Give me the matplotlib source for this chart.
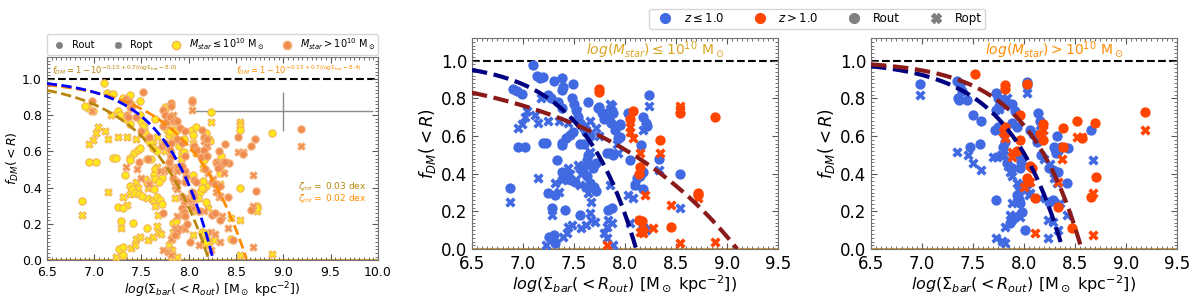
import numpy as np
import matplotlib
matplotlib.use("Agg")
import matplotlib.pyplot as plt
from matplotlib.ticker import MultipleLocator, AutoMinorLocator
from matplotlib.lines import Line2D

# ---------------- data ----------------
# log(M_star) <= 1e10 sample (middle panel, yellow in left panel)
lo_blue_out_x = [7.10, 7.14, 7.17, 7.20, 7.30, 7.38, 7.39, 7.38, 7.49, 6.99, 6.94, 6.90, 7.25, 7.27, 7.34, 7.38,
                 7.48, 7.50, 7.52, 7.54, 7.56, 7.64, 7.74, 7.77, 7.82, 7.79, 7.84, 7.59, 7.62, 7.66, 7.42, 7.46,
                 7.49, 7.56, 7.60, 7.82, 7.85, 7.64, 7.63, 7.64, 7.72, 7.69, 7.38, 7.38, 7.20, 7.23, 6.95, 7.02,
                 7.33, 7.38, 7.40, 7.43, 7.47, 7.51, 7.59, 7.63, 7.66, 7.70, 7.72, 6.87, 7.25, 7.31, 7.28, 7.41,
                 7.83, 7.26, 7.30, 7.31, 7.56, 8.24, 8.18, 8.21, 8.22, 7.86, 7.95, 7.90, 8.03, 7.93, 8.16, 7.88,
                 8.05, 8.33, 8.18, 8.15, 8.12, 8.10, 8.18, 8.54, 7.87, 8.18, 7.95, 7.75, 7.80, 7.88, 7.95]
lo_blue_out_y = [0.975, 0.92, 0.91, 0.915, 0.894, 0.91, 0.86, 0.845, 0.877, 0.825, 0.84, 0.85, 0.82, 0.80, 0.78, 0.75,
                 0.80, 0.77, 0.74, 0.70, 0.67, 0.78, 0.75, 0.72, 0.72, 0.69, 0.69, 0.645, 0.62, 0.60, 0.59, 0.605,
                 0.62, 0.56, 0.56, 0.51, 0.51, 0.50, 0.47, 0.45, 0.455, 0.43, 0.565, 0.55, 0.565, 0.565, 0.54, 0.54,
                 0.47, 0.41, 0.39, 0.37, 0.365, 0.355, 0.41, 0.39, 0.35, 0.33, 0.31, 0.325, 0.295, 0.286, 0.217, 0.206,
                 0.206, 0.063, 0.074, 0.03, 0.18, 0.818, 0.70, 0.67, 0.655, 0.67, 0.66, 0.63, 0.72, 0.59, 0.55, 0.50,
                 0.47, 0.48, 0.41, 0.39, 0.376, 0.34, 0.32, 0.40, 0.216, 0.115, 0.594, 0.753, 0.71, 0.72, 0.666]
lo_blue_opt_x = [6.99, 7.02, 7.04, 7.12, 7.15, 7.18, 7.25, 7.35, 7.53, 7.62, 7.66, 7.85, 7.72, 7.75, 7.66, 7.15,
                 7.35, 7.38, 7.44, 7.46, 7.56, 7.57, 7.62, 7.64, 7.67, 6.87, 7.28, 7.44, 7.48, 7.57, 7.62, 7.67,
                 7.71, 7.39, 7.43, 7.66, 7.83, 7.82, 7.79, 7.82, 7.23, 8.24, 8.18, 7.87, 7.93, 7.85, 8.03, 8.08,
                 8.10, 8.33, 8.54, 8.18, 8.21, 7.87, 7.88, 7.31, 7.54, 7.56, 7.92, 8.05, 7.44, 6.95]
lo_blue_opt_y = [0.665, 0.70, 0.735, 0.71, 0.67, 0.80, 0.68, 0.68, 0.735, 0.656, 0.68, 0.77, 0.64, 0.60, 0.515, 0.376,
                 0.303, 0.365, 0.43, 0.40, 0.43, 0.40, 0.33, 0.30, 0.25, 0.25, 0.18, 0.118, 0.127, 0.11, 0.127, 0.153,
                 0.143, 0.065, 0.085, 0.19, 0.153, 0.118, 0.085, 0.058, 0.02, 0.76, 0.63, 0.76, 0.51, 0.34, 0.286, 0.27,
                 0.34, 0.42, 0.22, 0.115, 0.10, 0.138, 0.02, 0.35, 0.445, 0.34, 0.56, 0.137, 0.67, 0.64]
lo_red_out_x = [7.75, 7.75, 8.08, 8.05, 8.54, 8.88, 8.34, 8.15, 8.14, 8.72, 8.72, 8.14, 8.17, 8.45, 8.18]
lo_red_out_y = [0.847, 0.835, 0.735, 0.69, 0.72, 0.70, 0.577, 0.435, 0.40, 0.30, 0.285, 0.155, 0.15, 0.118, 0.10]
lo_red_opt_x = [8.54, 8.54, 8.05, 8.05, 8.08, 8.34, 8.15, 8.20, 8.45, 8.27, 8.15, 8.18, 8.54, 8.88, 7.82, 8.72]
lo_red_opt_y = [0.76, 0.745, 0.645, 0.62, 0.59, 0.51, 0.51, 0.286, 0.233, 0.11, 0.09, 0.085, 0.03, 0.035, 0.02, 0.27]

# log(M_star) > 1e10 sample (right panel, orange in left panel)
hi_blue_out_x = [6.98, 7.34, 7.37, 7.39, 7.35, 7.36, 7.44, 7.47, 7.57, 7.50, 7.58, 7.73, 7.75, 7.76, 7.73, 7.72,
                 7.75, 7.80, 7.84, 7.88, 7.91, 7.80, 7.81, 7.79, 7.88, 7.93, 8.03, 8.03, 8.14, 8.16, 8.06, 8.09,
                 8.32, 8.29, 8.36, 8.43, 8.66, 7.73, 7.88, 7.86, 7.93, 7.95, 7.96, 7.98, 8.01, 7.96, 7.97, 7.96,
                 7.83, 7.88, 8.30, 8.33, 8.31, 8.25, 8.28, 8.33, 8.42, 8.25, 8.28, 8.13, 8.17]
hi_blue_out_y = [0.877, 0.89, 0.87, 0.84, 0.80, 0.79, 0.79, 0.54, 0.56, 0.71, 0.68, 0.83, 0.80, 0.76, 0.74, 0.63,
                 0.645, 0.79, 0.77, 0.77, 0.73, 0.61, 0.57, 0.54, 0.67, 0.645, 0.885, 0.87, 0.72, 0.68, 0.63, 0.61,
                 0.60, 0.54, 0.54, 0.535, 0.63, 0.26, 0.153, 0.137, 0.286, 0.265, 0.243, 0.197, 0.10, 0.49, 0.46, 0.43,
                 0.455, 0.43, 0.53, 0.52, 0.51, 0.43, 0.42, 0.41, 0.35, 0.25, 0.26, 0.567, 0.50]
hi_blue_opt_x = [6.98, 7.34, 7.45, 7.50, 7.58, 8.03, 7.83, 7.81, 7.76, 7.70, 7.74, 7.77, 7.80, 7.84, 7.86, 7.88,
                 7.93, 7.95, 7.96, 7.88, 7.93, 7.86, 7.91, 7.96, 7.73, 7.78, 7.81, 7.81, 8.03, 8.06, 8.05, 8.16,
                 8.24, 8.28, 8.33, 8.24, 8.35, 8.42, 8.68, 8.29, 8.32, 8.20, 8.26, 8.16, 8.19]
hi_blue_opt_y = [0.82, 0.515, 0.50, 0.455, 0.42, 0.83, 0.80, 0.76, 0.745, 0.49, 0.49, 0.50, 0.50, 0.44, 0.41, 0.39,
                 0.35, 0.31, 0.34, 0.243, 0.25, 0.18, 0.18, 0.17, 0.058, 0.045, 0.03, 0.118, 0.32, 0.30, 0.286, 0.27,
                 0.153, 0.145, 0.10, 0.058, 0.243, 0.18, 0.47, 0.376, 0.35, 0.48, 0.45, 0.656, 0.63]
hi_red_out_x = [7.52, 7.81, 7.81, 8.03, 7.96, 7.81, 8.19, 8.38, 8.52, 8.70, 9.19, 7.96, 8.16, 8.19, 8.57, 8.38,
                8.06, 8.08, 8.03, 8.04, 8.33, 8.47, 8.71, 8.66, 7.93, 8.11]
hi_red_out_y = [0.93, 0.868, 0.85, 0.877, 0.71, 0.647, 0.666, 0.64, 0.68, 0.67, 0.726, 0.577, 0.61, 0.577, 0.587, 0.54,
                0.44, 0.43, 0.376, 0.355, 0.224, 0.11, 0.383, 0.277, 0.52, 0.27]
hi_red_opt_x = [9.19, 8.52, 8.57, 8.38, 8.19, 7.81, 7.88, 7.88, 8.06, 8.33, 8.11, 8.68, 8.68, 8.37, 7.79, 8.00]
hi_red_opt_y = [0.63, 0.594, 0.594, 0.54, 0.63, 0.587, 0.515, 0.49, 0.356, 0.356, 0.084, 0.074, 0.296, 0.48, 0.62, 0.33]

# model curves: log10(1 - f_DM) = slope * (x - x_zero)
left_curve_zero = [8.214, 8.614, 8.26]
left_curve_slope = [0.7, 0.7, 0.9]
mid_curve_zero = [8.11, 9.10]
mid_curve_slope = [0.81, 0.296]
right_curve_zero = [8.38, 8.565]
right_curve_slope = [0.81, 0.82]

# error bar in left panel
err_x, err_y, err_xerr, err_yerr = 9.0, 0.82, 0.95, 0.105

# ---------------- styling ----------------
BLUE = 'royalblue'
RED = 'orangered'
YEL_F, YEL_E = '#ffe81a', '#f2b35a'
ORA_F, ORA_E = '#f08c50', '#f5b27a'


def fcurve(x, x0, s):
    return 1 - 10 ** (s * (x - x0))


def style_axes(ax, xmax, fs, xpad):
    ax.set_ylim(0, 1.12)
    ax.set_xlim(6.5, xmax)
    ax.xaxis.set_major_locator(MultipleLocator(0.5))
    ax.yaxis.set_major_locator(MultipleLocator(0.2))
    ax.xaxis.set_minor_locator(AutoMinorLocator(10))
    ax.yaxis.set_minor_locator(AutoMinorLocator(10))
    ax.tick_params(which='both', direction='in', top=True, right=True, labelsize=fs, colors='0.35',
                   labelcolor='black')
    ax.tick_params(which='major', length=4)
    ax.tick_params(which='minor', length=2)
    ax.tick_params(axis='x', which='major', pad=xpad)
    for sp in ax.spines.values():
        sp.set_color('0.45')
    ax.axhline(1.0, color='black', ls='--', lw=1.5, zorder=1)
    ax.axhline(0.0, color='#d9a040', lw=1.5, zorder=1)


fig = plt.figure(figsize=(12, 2.99), dpi=100)
axL = fig.add_axes([0.039, 0.130, 0.276, 0.679])
axM = fig.add_axes([0.3933, 0.167, 0.255, 0.706])
axR = fig.add_axes([0.7258, 0.167, 0.255, 0.706])

xlab = r'$log(\Sigma_{bar}(<R_{out})$ [M$_\odot$ kpc$^{-2}$])'
ylab = r'$f_{DM}(<R)$'

# ---------------- left panel ----------------
style_axes(axL, 10.0, 9, 4.5)
sL = 28
axL.scatter(lo_blue_opt_x + lo_red_opt_x, lo_blue_opt_y + lo_red_opt_y, marker='X', s=sL,
            facecolor=YEL_F, edgecolor=YEL_E, lw=0.8, zorder=3)
axL.scatter(lo_blue_out_x + lo_red_out_x, lo_blue_out_y + lo_red_out_y, marker='o', s=sL,
            facecolor=YEL_F, edgecolor=YEL_E, lw=0.8, zorder=3)
axL.scatter(hi_blue_opt_x + hi_red_opt_x, hi_blue_opt_y + hi_red_opt_y, marker='X', s=sL,
            facecolor=ORA_F, edgecolor=ORA_E, lw=0.8, zorder=3)
axL.scatter(hi_blue_out_x + hi_red_out_x, hi_blue_out_y + hi_red_out_y, marker='o', s=sL,
            facecolor=ORA_F, edgecolor=ORA_E, lw=0.8, zorder=3)
xx = np.linspace(6.5, 10, 600)
for x0, s, c in zip(left_curve_zero, left_curve_slope, ['darkgoldenrod', 'darkorange', 'blue']):
    m = xx <= x0
    axL.plot(xx[m], fcurve(xx[m], x0, s), ls='--', lw=2, color=c, zorder=4)
axL.errorbar(err_x, err_y, xerr=err_xerr, yerr=err_yerr, color='0.55', lw=1, zorder=2)
axL.text(6.56, 1.05, r'$f_{DM} = 1 - 10^{-0.15 + 0.7(log\Sigma_{bar} - 8.0)}$', color='darkgoldenrod',
         fontsize=6, va='center')
axL.text(8.5, 1.05, r'$f_{DM} = 1 - 10^{-0.15 + 0.7(log\Sigma_{bar} - 8.4)}$', color='darkorange',
         fontsize=6, va='center')
axL.text(9.15, 0.405, r'$\zeta_{int}=$ 0.03 dex', color='darkgoldenrod', fontsize=6.5, va='center')
axL.text(9.15, 0.34, r'$\zeta_{int}=$ 0.02 dex', color='darkorange', fontsize=6.5, va='center')
axL.set_xlabel(xlab, fontsize=9, labelpad=1)
axL.set_ylabel(ylab, fontsize=9, labelpad=1)
hL = [Line2D([], [], ls='', marker='o', color='gray', ms=4),
      Line2D([], [], ls='', marker='X', color='gray', ms=4),
      Line2D([], [], ls='', marker='o', mfc=YEL_F, mec=YEL_E, ms=6),
      Line2D([], [], ls='', marker='o', mfc=ORA_F, mec=ORA_E, ms=6)]
axL.legend(hL, ['Rout', 'Ropt', r'$M_{star} \leq 10^{10}$ M$_\odot$', r'$M_{star} > 10^{10}$ M$_\odot$'],
           loc='lower left', bbox_to_anchor=(0, 1.01, 1, 0.08), mode='expand', ncol=4, fontsize=7,
           handletextpad=0.3, borderpad=0.3, borderaxespad=0, frameon=True)

# ---------------- middle & right panels ----------------
sM = 55
for ax, bo, bopt, ro, ropt, zeros, slopes, title, tcol in [
        (axM, (lo_blue_out_x, lo_blue_out_y), (lo_blue_opt_x, lo_blue_opt_y),
         (lo_red_out_x, lo_red_out_y), (lo_red_opt_x, lo_red_opt_y), mid_curve_zero, mid_curve_slope,
         r'$log(M_{star}) \leq 10^{10}$ M$_\odot$', 'goldenrod'),
        (axR, (hi_blue_out_x, hi_blue_out_y), (hi_blue_opt_x, hi_blue_opt_y),
         (hi_red_out_x, hi_red_out_y), (hi_red_opt_x, hi_red_opt_y), right_curve_zero, right_curve_slope,
         r'$log(M_{star}) > 10^{10}$ M$_\odot$', 'darkorange')]:
    style_axes(ax, 9.5, 12, 4.5)
    ax.scatter(*bopt, marker='X', s=sM, color=BLUE, lw=0, zorder=3)
    ax.scatter(*bo, marker='o', s=sM, color=BLUE, lw=0, zorder=3)
    ax.scatter(*ropt, marker='X', s=sM, color=RED, lw=0, zorder=3)
    ax.scatter(*ro, marker='o', s=sM, color=RED, lw=0, zorder=3)
    xx = np.linspace(6.5, 9.5, 600)
    for x0, s, c in zip(zeros, slopes, ['navy', '#8b1a1a']):
        m = xx <= x0
        ax.plot(xx[m], fcurve(xx[m], x0, s), ls='--', lw=3, color=c, zorder=4)
    ax.text(8.3, 1.055, title, color=tcol, fontsize=10, ha='center', va='center')
    ax.set_xlabel(xlab, fontsize=11.5, labelpad=0)
    ax.set_ylabel(ylab, fontsize=12, labelpad=2)

hF = [Line2D([], [], ls='', marker='o', color=BLUE, ms=7),
      Line2D([], [], ls='', marker='o', color=RED, ms=7),
      Line2D([], [], ls='', marker='o', color='gray', ms=7),
      Line2D([], [], ls='', marker='X', color='gray', ms=7)]
fig.legend(hF, [r'$z \leq 1.0$', r'$z > 1.0$', 'Rout', 'Ropt'], loc='upper center',
           bbox_to_anchor=(0.681, 0.99), ncol=4, fontsize=8.5, handletextpad=0.6, columnspacing=2.0,
           borderpad=0.3)

fig.savefig('out.png', dpi=100)
